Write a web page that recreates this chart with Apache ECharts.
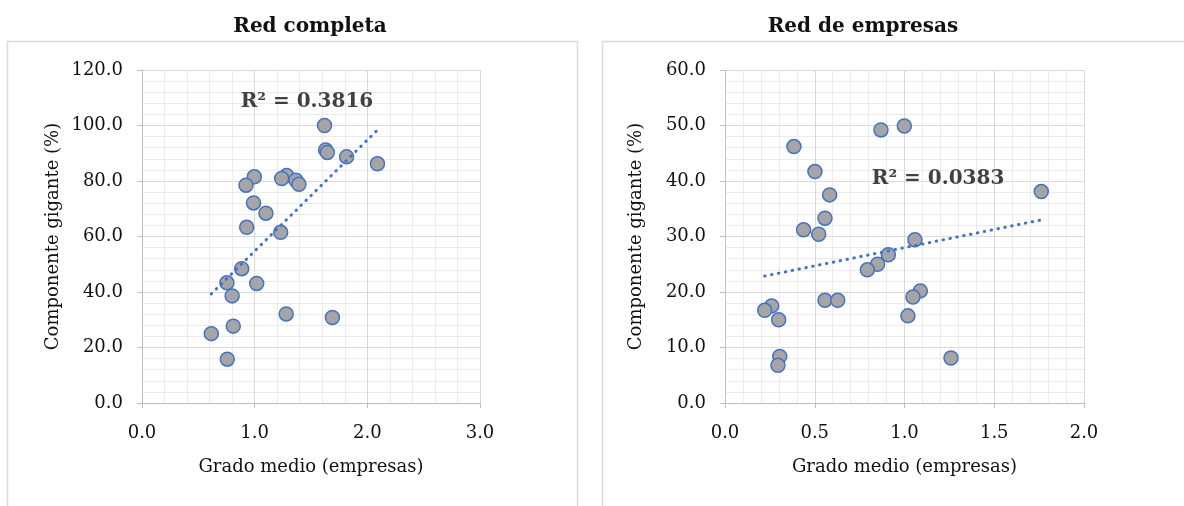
<!DOCTYPE html>
<html><head><meta charset="utf-8">
<script src="https://cdn.jsdelivr.net/npm/echarts@6/dist/echarts.min.js"></script>
<style>html,body{margin:0;padding:0;background:#fff}#c{width:1184px;height:506px}</style>
</head><body><div id="c"></div>
<script>
// Red completa
const leftX = [1.62,1.63,1.645,1.816,2.09,0.997,1.284,1.24,1.366,1.393,0.923,0.99,1.10,0.929,1.231,0.885,0.754,1.018,0.80,1.28,1.69,0.81,0.615,0.757];
const leftY = [100.0,91.2,90.3,88.7,86.2,81.5,82.0,80.9,80.3,78.8,78.5,72.1,68.4,63.3,61.5,48.4,43.3,43.1,38.6,32.1,30.8,27.7,25.0,15.8];
// Red de empresas
const rightX = [0.999,0.869,0.384,0.501,1.762,0.583,0.557,0.438,0.522,1.058,0.91,0.85,0.793,1.088,1.047,0.557,0.628,0.26,0.221,0.299,1.019,0.305,1.259,0.295];
const rightY = [49.9,49.2,46.2,41.7,38.1,37.5,33.3,31.2,30.4,29.4,26.7,25.0,24.0,20.2,19.1,18.5,18.5,17.5,16.7,15.0,15.7,8.4,8.1,6.8];
const titles = ['Red completa','Red de empresas'];
const r2Labels = ['R² = 0.3816','R² = 0.0383'];
const r2Pos = [[1.464,108.6],[1.187,40.4]];
const xName = 'Grado medio (empresas)';
const yName = 'Componente gigante (%)';

function trend(xs, ys){
  const n=xs.length; let sx=0,sy=0,sxx=0,sxy=0;
  for(let i=0;i<n;i++){sx+=xs[i];sy+=ys[i];sxx+=xs[i]*xs[i];sxy+=xs[i]*ys[i];}
  const b=(n*sxy-sx*sy)/(n*sxx-sx*sx), a=(sy-b*sx)/n;
  const mn=Math.min(...xs), mx=Math.max(...xs);
  return [[mn,a+b*mn],[mx,a+b*mx]];
}
const FONT='DejaVu Serif';
const blue='#4472c4';
const TXT='#111';
function xAxis(idx,max,interval){return {gridIndex:idx,type:'value',min:0,max:max,interval:interval,
  name:xName,nameLocation:'middle',nameGap:55,nameTextStyle:{fontFamily:FONT,fontSize:18,color:TXT},
  axisLine:{show:true,lineStyle:{color:'#bfbfbf'}},axisTick:{show:true,length:5,lineStyle:{color:'#bfbfbf'}},
  axisLabel:{fontFamily:FONT,fontSize:18,color:TXT,margin:21,formatter:v=>v.toFixed(1)},
  splitLine:{lineStyle:{color:'#d9d9d9'}},minorTick:{show:false,splitNumber:5},minorSplitLine:{show:true,lineStyle:{color:'#ebebeb'}}};}
function yAxis(idx,max,interval){return {gridIndex:idx,type:'value',min:0,max:max,interval:interval,
  name:yName,nameLocation:'middle',nameGap:80,nameTextStyle:{fontFamily:FONT,fontSize:18,color:TXT},
  axisLine:{show:true,lineStyle:{color:'#bfbfbf'}},axisTick:{show:true,length:5,lineStyle:{color:'#bfbfbf'}},
  axisLabel:{fontFamily:FONT,fontSize:18,color:TXT,margin:19,formatter:v=>v.toFixed(1)},
  splitLine:{lineStyle:{color:'#d9d9d9'}},minorTick:{show:false,splitNumber:5},minorSplitLine:{show:true,lineStyle:{color:'#ebebeb'}}};}
function scat(idx,xs,ys){return {type:'scatter',xAxisIndex:idx,yAxisIndex:idx,symbolSize:14,
  itemStyle:{color:'#a5a5a5',borderColor:blue,borderWidth:1.5,opacity:1},data:xs.map((x,i)=>[x,ys[i]]),z:3};}
function tl(idx,xs,ys){return {type:'line',xAxisIndex:idx,yAxisIndex:idx,data:trend(xs,ys),symbol:'none',
  lineStyle:{color:blue,width:3,type:[0.5,6.5],cap:'round'},z:4,silent:true};}
function lbl(idx,k){return {type:'scatter',xAxisIndex:idx,yAxisIndex:idx,symbolSize:0,data:[r2Pos[k]],z:5,silent:true,
  label:{show:true,position:'inside',formatter:r2Labels[k],fontFamily:FONT,fontWeight:'bold',fontSize:20,color:TXT}};}
const chart=echarts.init(document.getElementById('c'));
chart.setOption({
  animation:false,
  title:[
    {text:titles[0],left:305,top:12,textAlign:'center',textStyle:{fontFamily:FONT,fontWeight:'bold',fontSize:20,color:TXT}},
    {text:titles[1],left:858,top:12,textAlign:'center',textStyle:{fontFamily:FONT,fontWeight:'bold',fontSize:20,color:TXT}}
  ],
  graphic:[
    {type:'rect',shape:{x:7.5,y:41.5,width:570,height:500},style:{fill:'none',stroke:'#d9d9d9',lineWidth:1.5},z:-1},
    {type:'rect',shape:{x:602.5,y:41.5,width:600,height:500},style:{fill:'none',stroke:'#d9d9d9',lineWidth:1.5},z:-1}
  ],
  grid:[{left:142,top:70,width:338,height:333},{left:725,top:70,width:359,height:333}],
  xAxis:[xAxis(0,3,1),xAxis(1,2,0.5)],
  yAxis:[yAxis(0,120,20),yAxis(1,60,10)],
  series:[scat(0,leftX,leftY),tl(0,leftX,leftY),lbl(0,0),scat(1,rightX,rightY),tl(1,rightX,rightY),lbl(1,1)]
});
</script></body></html>
